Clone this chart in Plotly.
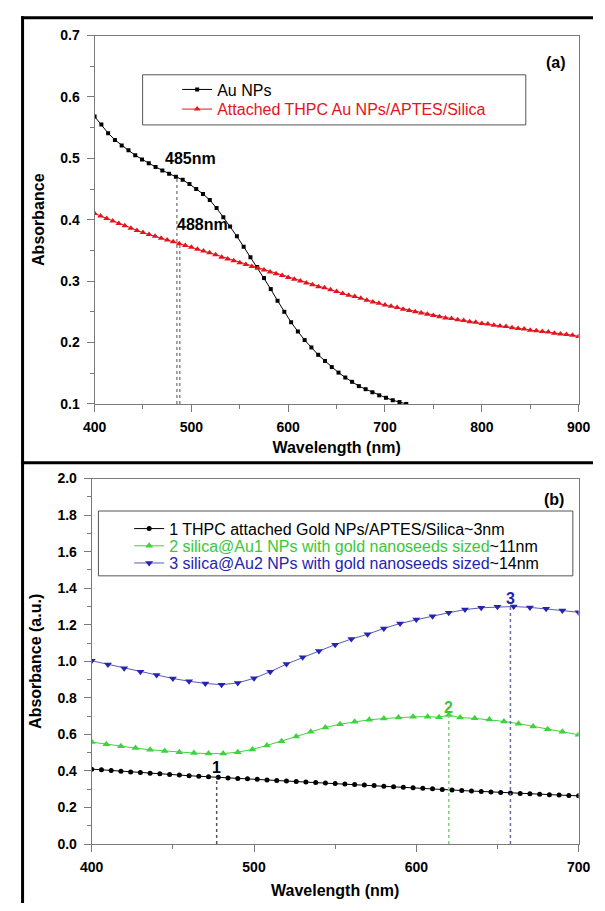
import plotly.graph_objects as go
import numpy as np

W, H = 605, 911
FONT = "Liberation Sans, Arial, sans-serif"

# ---------------- Panel (a) data ----------------
wl_au = list(range(400, 723, 7))
abs_au = [0.568, 0.555, 0.541, 0.530, 0.521, 0.513, 0.505, 0.498, 0.492, 0.486,
          0.480, 0.475, 0.470, 0.465, 0.458, 0.450, 0.442, 0.432, 0.419, 0.404,
          0.389, 0.373, 0.356, 0.339, 0.323, 0.305, 0.287, 0.268, 0.250, 0.233,
          0.218, 0.204, 0.192, 0.180, 0.170, 0.160, 0.151, 0.143, 0.136, 0.129,
          0.124, 0.119, 0.114, 0.110, 0.106, 0.103, 0.100]

wl_thpc = [400 + 6.25 * i for i in range(81)]
abs_thpc = [0.410, 0.406, 0.402, 0.398, 0.394, 0.390, 0.386, 0.3825, 0.379,
            0.376, 0.373, 0.370, 0.367, 0.364, 0.361, 0.358, 0.355,
            0.352, 0.349, 0.346, 0.343, 0.339, 0.336, 0.333, 0.330,
            0.327, 0.324, 0.321, 0.318, 0.315, 0.312, 0.309, 0.306,
            0.303, 0.300, 0.297, 0.294, 0.291, 0.289, 0.286, 0.283,
            0.280, 0.277, 0.275, 0.272, 0.269, 0.266, 0.264, 0.261,
            0.259, 0.257, 0.254, 0.252, 0.250, 0.248, 0.246, 0.244,
            0.242, 0.240, 0.239, 0.237, 0.236, 0.234, 0.233, 0.231,
            0.230, 0.228, 0.227, 0.226, 0.224, 0.223, 0.222, 0.220,
            0.219, 0.218, 0.217, 0.215, 0.214, 0.213, 0.212, 0.210]

peaks_a = [485, 488]
peak_labels_a = ["485nm", "488nm"]

# ---------------- Panel (b) data ----------------
wl_b1 = list(range(400, 701, 6))
abs_b1 = [0.410, 0.406, 0.402, 0.399, 0.395, 0.392, 0.388, 0.385, 0.381, 0.378,
          0.374, 0.371, 0.368, 0.365, 0.362, 0.359, 0.357, 0.354, 0.351, 0.348,
          0.345, 0.343, 0.340, 0.337, 0.334, 0.332, 0.329, 0.326, 0.323, 0.320,
          0.317, 0.314, 0.311, 0.308, 0.305, 0.302, 0.299, 0.296, 0.293, 0.290,
          0.288, 0.285, 0.282, 0.280, 0.277, 0.275, 0.272, 0.270, 0.268, 0.266,
          0.264]

wl_b2 = [400, 409, 418, 427, 436, 445, 454, 463, 472, 481, 490, 499, 508, 517,
         526, 535, 544, 553, 562, 571, 580, 589, 598, 607, 614, 620, 627, 636,
         645, 654, 663, 672, 681, 690, 700]
abs_b2 = [0.558, 0.546, 0.535, 0.525, 0.516, 0.509, 0.503, 0.498, 0.495, 0.495,
          0.503, 0.518, 0.540, 0.563, 0.588, 0.614, 0.638, 0.656, 0.670, 0.680,
          0.687, 0.692, 0.696, 0.697, 0.694, 0.706, 0.692, 0.688, 0.681, 0.671,
          0.659, 0.644, 0.628, 0.614, 0.598]

wl_b3 = list(range(400, 701, 10))
abs_b3 = [1.003, 0.983, 0.962, 0.943, 0.925, 0.906, 0.891, 0.879, 0.872, 0.882,
          0.907, 0.943, 0.985, 1.022, 1.056, 1.091, 1.122, 1.148, 1.180, 1.207,
          1.229, 1.247, 1.266, 1.283, 1.293, 1.298, 1.300, 1.295, 1.288, 1.278,
          1.268]

peaks_b = [477, 620, 658]
peak_labels_b = ["1", "2", "3"]

RED = "#e3141c"
GREEN = "#3fd23f"
GREEN_TXT = "#38c838"
BLUE = "#2424b0"
BLUE_LINE = "#5a5ab8"


def px(x):
    return x / W


def py(y):
    return 1 - y / H


fig = go.Figure()

# Panel (a) traces
fig.add_trace(go.Scatter(x=wl_au, y=abs_au, mode="lines+markers", name="Au NPs",
                         line=dict(color="black", width=1),
                         marker=dict(symbol="square", size=4, color="black"),
                         xaxis="x", yaxis="y", legend="legend"))
fig.add_trace(go.Scatter(x=wl_thpc, y=abs_thpc, mode="lines+markers",
                         name=f"<span style='color:{RED}'>Attached THPC Au NPs/APTES/Silica</span>",
                         line=dict(color=RED, width=1),
                         marker=dict(symbol="triangle-up", size=6, color=RED),
                         xaxis="x", yaxis="y", legend="legend2"))

# Panel (b) traces
fig.add_trace(go.Scatter(x=wl_b1, y=abs_b1, mode="lines+markers",
                         name="1 THPC attached Gold NPs/APTES/Silica~3nm",
                         line=dict(color="black", width=1),
                         marker=dict(symbol="circle", size=5, color="black"),
                         xaxis="x2", yaxis="y2", legend="legend3"))
fig.add_trace(go.Scatter(x=wl_b2, y=abs_b2, mode="lines+markers",
                         name=f"<span style='color:{GREEN_TXT}'>2 silica@Au1 NPs with gold nanoseeds sized</span>~11nm",
                         line=dict(color=GREEN, width=1),
                         marker=dict(symbol="triangle-up", size=7, color=GREEN),
                         xaxis="x2", yaxis="y2", legend="legend4"))
fig.add_trace(go.Scatter(x=wl_b3, y=abs_b3, mode="lines+markers",
                         name=f"<span style='color:{BLUE}'>3 silica@Au2 NPs with gold nanoseeds sized</span>~14nm",
                         line=dict(color=BLUE_LINE, width=1),
                         marker=dict(symbol="triangle-down", size=7, color=BLUE),
                         xaxis="x2", yaxis="y2", legend="legend5"))

shapes = []
annotations = []
lblfont = dict(size=16, family=FONT, color="black", weight="bold")

# dotted peak lines panel (a)
src_a = [(wl_au, abs_au), (wl_thpc, abs_thpc)]
for p, (wx, wy) in zip(peaks_a, src_a):
    top = float(np.interp(p, wx, wy))
    shapes.append(dict(type="line", xref="x", yref="y", x0=p, x1=p, y0=0.1, y1=top,
                       line=dict(color="#8a8a8a", width=1.5, dash="dot")))
annotations.append(dict(x=499, y=0.50, xref="x", yref="y", text=peak_labels_a[0],
                        showarrow=False, font=lblfont))
annotations.append(dict(x=511, y=0.392, xref="x", yref="y", text=peak_labels_a[1],
                        showarrow=False, font=lblfont))

# dotted peak lines panel (b)
src_b = [(wl_b1, abs_b1, "#555555", "black", 0.42),
         (wl_b2, abs_b2, "#7fd07f", GREEN_TXT, 0.75),
         (wl_b3, abs_b3, "#6a6aa8", BLUE, 1.345)]
for p, lab, (wx, wy, lc, tc, ly) in zip(peaks_b, peak_labels_b, src_b):
    top = float(np.interp(p, wx, wy))
    shapes.append(dict(type="line", xref="x2", yref="y2", x0=p, x1=p, y0=0, y1=top,
                       line=dict(color=lc, width=1.5, dash="dot")))
    annotations.append(dict(x=p, y=ly, xref="x2", yref="y2", text=lab, showarrow=False,
                            font=dict(size=16, family=FONT, color=tc, weight="bold")))

annotations.append(dict(x=877, y=0.656, xref="x", yref="y", text="(a)", showarrow=False,
                        font=lblfont))
annotations.append(dict(x=685, y=1.885, xref="x2", yref="y2", text="(b)", showarrow=False,
                        font=lblfont))

# legend boxes
shapes.append(dict(type="rect", xref="paper", yref="paper", x0=px(136), x1=px(535),
                   y0=py(119), y1=py(68), line=dict(color="#555555", width=1)))
shapes.append(dict(type="rect", xref="paper", yref="paper", x0=px(90), x1=px(584),
                   y0=py(578), y1=py(512), line=dict(color="#555555", width=1)))

# outer frames
shapes.append(dict(type="line", xref="paper", yref="paper", x0=px(11), x1=px(11),
                   y0=0, y1=py(8.5), line=dict(color="black", width=3)))
shapes.append(dict(type="line", xref="paper", yref="paper", x0=px(9.5), x1=1,
                   y0=py(10), y1=py(10), line=dict(color="black", width=3)))
shapes.append(dict(type="line", xref="paper", yref="paper", x0=px(9.5), x1=1,
                   y0=py(463), y1=py(463), line=dict(color="black", width=3)))

AX = "#7a7a7a"
tickfont = dict(size=14, family=FONT, color="black", weight="bold")
titlefont = dict(size=16, family=FONT, color="black", weight="bold")


def xax(domain, rng, anchor, standoff):
    return dict(domain=domain, range=rng, anchor=anchor, dtick=100, tick0=400,
                ticks="outside", ticklen=7, tickcolor=AX, tickwidth=1,
                showline=True, linecolor=AX, linewidth=1, mirror=True,
                showgrid=False, zeroline=False, tickfont=tickfont,
                ticklabelstandoff=3,
                minor=dict(ticks="outside", ticklen=4, dtick=50, tickcolor=AX, showgrid=False),
                title=dict(text="Wavelength (nm)", font=titlefont, standoff=standoff))


def yax(domain, rng, anchor, dt, mdt, title):
    return dict(domain=domain, range=rng, anchor=anchor, dtick=dt, tick0=0,
                tickformat=".1f",
                ticks="outside", ticklen=7, tickcolor=AX, tickwidth=1,
                showline=True, linecolor=AX, linewidth=1, mirror=True,
                showgrid=False, zeroline=False, tickfont=tickfont,
                ticklabelstandoff=4,
                minor=dict(ticks="outside", ticklen=4, dtick=mdt, tickcolor=AX, showgrid=False),
                title=dict(text=title, font=titlefont, standoff=11))


def leg(xpix, ypix, size):
    return dict(x=px(xpix), y=py(ypix), xanchor="left", yanchor="middle",
                bgcolor="rgba(0,0,0,0)", borderwidth=0, itemwidth=30,
                font=dict(size=size, family=FONT, color="black"))


fig.update_layout(
    width=W, height=H,
    margin=dict(l=0, r=0, t=0, b=0),
    paper_bgcolor="white", plot_bgcolor="white",
    font=dict(family=FONT, color="black"),
    xaxis=xax([px(86), px(590)], [400, 900], "y", 8),
    yaxis=yax([py(403), py(28)], [0.1, 0.7], "x", 0.1, 0.05, "Absorbance"),
    xaxis2=xax([px(83), px(590)], [400, 700], "y2", 10),
    yaxis2=yax([py(851), py(479)], [0, 2.0], "x2", 0.2, 0.1, "Absorbance (a.u.)"),
    legend=leg(172, 83, 16),
    legend2=leg(172, 103, 16),
    legend3=leg(122, 530, 16),
    legend4=leg(122, 547.5, 16),
    legend5=leg(122, 565, 16),
    shapes=shapes,
    annotations=annotations,
    showlegend=True,
)

fig.write_html("out.html")
